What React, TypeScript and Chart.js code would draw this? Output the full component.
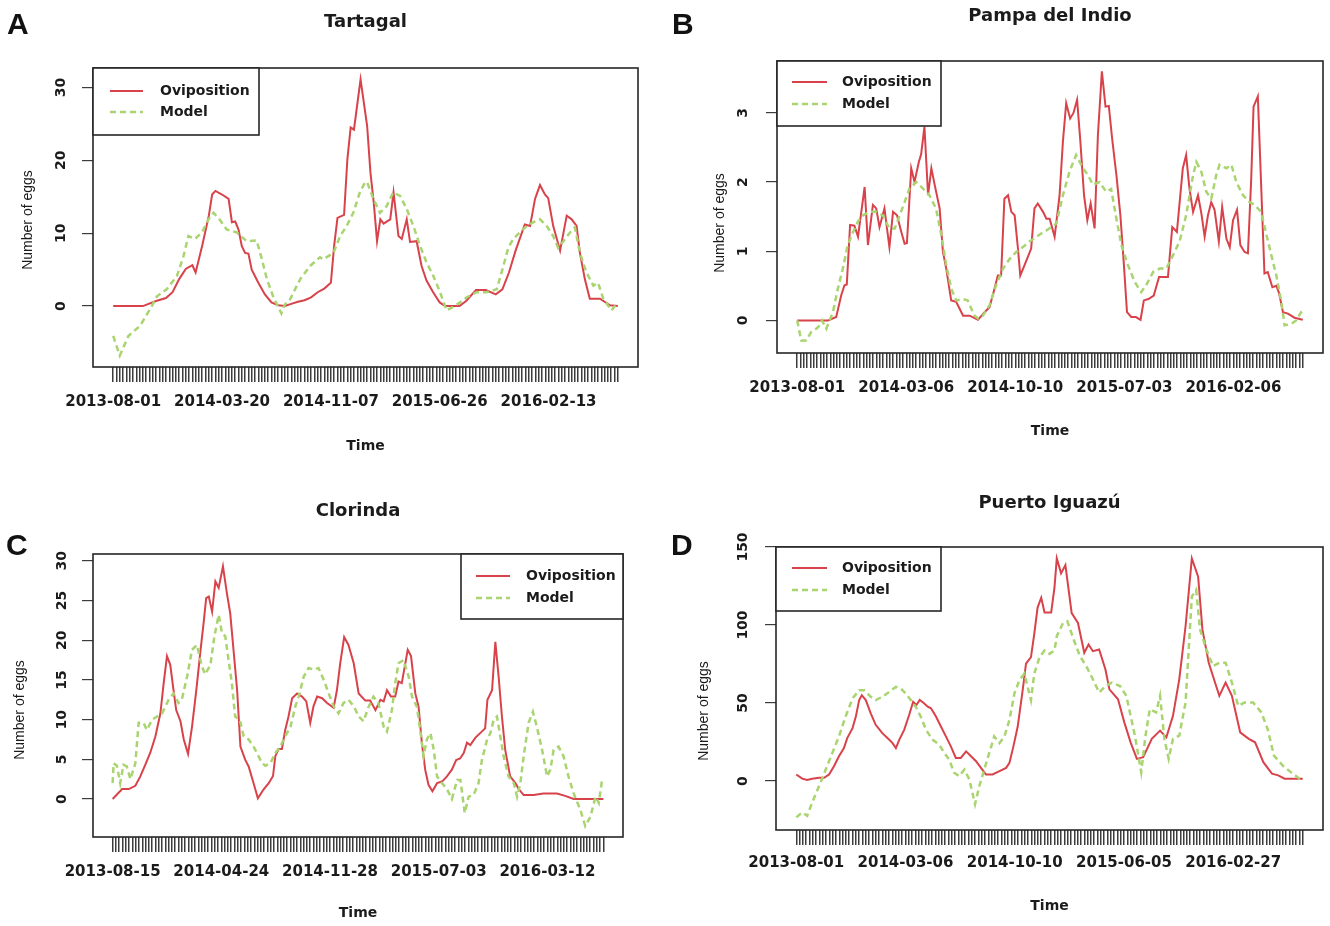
import React, { useEffect, useRef } from "react";
import { Chart, registerables } from "chart.js";

Chart.register(...registerables);

// ---------- data (x = observation index, y = number of eggs) ----------
const tartagalDates = ["2013-08-01", "2014-03-20", "2014-11-07", "2015-06-26", "2016-02-13"];
const pampaDates = ["2013-08-01", "2014-03-06", "2014-10-10", "2015-07-03", "2016-02-06"];
const clorindaDates = ["2013-08-15", "2014-04-24", "2014-11-28", "2015-07-03", "2016-03-12"];
const iguazuDates = ["2013-08-01", "2014-03-06", "2014-10-10", "2015-06-05", "2016-02-27"];

const tartagalYTicks = [0, 10, 20, 30];
const pampaYTicks = [0, 1, 2, 3];
const clorindaYTicks = [0, 5, 10, 15, 20, 25, 30];
const iguazuYTicks = [0, 50, 100, 150];

const tartagalOviposition = [
  [0, 0], [9, 0], [13, 0.7], [16, 1.1], [18, 1.9], [20, 3.7], [22, 5.1], [24, 5.6], [25, 4.6], [27, 8.3],
  [29, 12.4], [30, 15.3], [31, 15.8], [33, 15.3], [35, 14.7], [36, 11.5], [37, 11.6], [38, 10.5], [39, 8.2],
  [40, 7.3], [41, 7.2], [42, 5.0], [44, 3.2], [46, 1.6], [48, 0.5], [50, 0.1], [52, 0], [54, 0.3], [56, 0.6],
  [58, 0.8], [60, 1.2], [62, 1.9], [64, 2.4], [66, 3.2], [67, 8.3], [68, 12.1], [70, 12.5], [71, 20.1],
  [72, 24.5], [73, 24.2], [75, 31.1], [77, 24.7], [78, 18.3], [79, 14.2], [80, 8.9], [81, 11.9], [82, 11.3],
  [84, 11.9], [85, 15.6], [86.5, 9.6], [87.5, 9.2], [89, 11.9], [90, 8.8], [92, 8.9], [93.5, 5.5], [95, 3.5],
  [97, 1.9], [99, 0.5], [100.6, 0], [105, 0], [107, 0.7], [110, 2.2], [113, 2.2], [116, 1.6], [118, 2.3],
  [120, 4.6], [122, 7.6], [124.8, 11.2], [126.4, 11.0], [127.9, 14.7], [129.4, 16.6], [130.9, 15.3],
  [131.9, 14.8], [133.4, 11.0], [135.5, 7.6], [137.5, 12.4], [139, 11.9], [140.5, 11.0], [141.5, 7.3],
  [143, 3.7], [144.5, 1.0], [147.6, 1.0], [150.6, 0.1], [153, 0],
];
const tartagalModel = [
  [0, -4.1], [2, -6.8], [4.6, -4.1], [8.2, -2.7], [11.7, 0], [13.2, 1.3], [16.2, 2.3], [19.3, 4.1], [21.3, 6.8],
  [22.8, 9.6], [24.8, 9.2], [26.9, 10.1], [28.9, 11.9], [30.4, 12.8], [32.4, 11.8], [34.4, 10.5], [37.5, 10.1],
  [40.5, 8.9], [43.5, 9.0], [45.1, 6.4], [46.6, 3.7], [48.6, 1.2], [50.1, -0.2], [51, -1.0], [52, 0.2],
  [53.6, 0.9], [56.7, 3.7], [59.7, 5.5], [62.7, 6.7], [63.7, 6.4], [66.8, 7.3], [68.8, 9.6], [70.8, 11.0],
  [72.8, 12.8], [74.8, 15.6], [76.4, 17.0], [77, 17.0], [78.9, 14.7], [80.9, 12.8], [82.9, 13.7], [84.9, 15.6],
  [87, 15.1], [89, 13.3], [91, 11.0], [93, 8.3], [95, 6.0], [97.1, 4.1], [99.1, 1.9], [101.1, -0.6],
  [103.1, -0.1], [105.2, 0.5], [107.2, 1.2], [110.2, 1.9], [113.2, 1.9], [116.3, 2.3], [118.3, 5.5],
  [119.8, 8.0], [121.3, 9.2], [123.3, 10.1], [125.4, 11.0], [127.4, 11.5], [129.4, 11.9], [131.4, 11.0],
  [133.4, 9.6], [134.9, 8.0], [136.5, 8.9], [138.5, 10.1], [140, 10.8], [141.5, 7.3], [143.5, 4.6],
  [145.6, 2.8], [147, 3.2], [148.6, 1.0], [151.1, -0.6], [153, 0.5],
];

const pampaOviposition = [
  [0, 0], [9.3, 0], [11.8, 0.05], [13.3, 0.36], [14.3, 0.51], [15, 0.52], [16, 1.38], [17.3, 1.37], [18.4, 1.21],
  [20.4, 1.93], [21.4, 1.09], [22.9, 1.67], [23.9, 1.62], [24.9, 1.35], [26.4, 1.62], [27.9, 1.06], [29, 1.57],
  [30.2, 1.52], [31.5, 1.28], [32.5, 1.11], [33.2, 1.12], [34.5, 2.2], [35.5, 2.0], [36.8, 2.29], [37.5, 2.4],
  [38.5, 2.8], [39.6, 1.81], [40.6, 2.2], [41.6, 1.96], [43.1, 1.62], [44.1, 0.99], [45.1, 0.75], [46.6, 0.29],
  [48.1, 0.27], [50.2, 0.07], [52.2, 0.07], [54.7, 0.01], [56.7, 0.12], [58.2, 0.19], [59.7, 0.46], [60.7, 0.65],
  [61.7, 0.65], [62.7, 1.76], [63.8, 1.81], [64.8, 1.57], [65.8, 1.52], [66.8, 1.04], [67.5, 0.65], [68.8, 0.8],
  [70.8, 1.04], [71.8, 1.62], [72.8, 1.69], [74.4, 1.57], [75.4, 1.47], [76.4, 1.47], [77.9, 1.21], [79.4, 1.81],
  [80.4, 2.58], [81.4, 3.14], [82.6, 2.92], [83.6, 3.0], [84.7, 3.19], [85.7, 2.58], [86.8, 1.81], [87.8, 1.45],
  [88.8, 1.69], [90, 1.33], [91, 2.68], [92.2, 3.6], [93.3, 3.09], [94.3, 3.1], [95.3, 2.63], [96.6, 2.1],
  [97.8, 1.52], [98.8, 0.85], [99.8, 0.12], [101.1, 0.05], [102.5, 0.05], [103.9, 0.01], [104.9, 0.29],
  [106.3, 0.31], [107.9, 0.36], [109.5, 0.63], [112.2, 0.63], [113.5, 1.35], [114.9, 1.28], [116.7, 2.2],
  [117.7, 2.39], [118.7, 1.91], [119.8, 1.57], [121.3, 1.81], [122.3, 1.55], [123.3, 1.21], [124.3, 1.52],
  [125.3, 1.71], [126.3, 1.6], [127.6, 1.14], [128.6, 1.64], [129.9, 1.18], [130.9, 1.06], [131.9, 1.45],
  [133.1, 1.6], [134.1, 1.09], [135.4, 0.99], [136.4, 0.97], [137.4, 2.05], [138.1, 3.09], [139.4, 3.24],
  [140.4, 1.96], [141.4, 0.68], [142.4, 0.7], [143.8, 0.48], [145, 0.5], [145.8, 0.4], [147, 0.12],
  [148.5, 0.1], [150.5, 0.04], [153, 0.01],
];
const pampaModel = [
  [0, 0], [1.2, -0.29], [2.7, -0.29], [4.2, -0.17], [6.3, -0.1], [7.5, 0], [8.8, -0.12], [10.8, 0.12],
  [12.3, 0.46], [13.8, 0.75], [15.3, 1.09], [16.9, 1.28], [18.4, 1.43], [19.9, 1.52], [21.9, 1.57], [23.9, 1.57],
  [25.9, 1.52], [27.9, 1.33], [29.5, 1.33], [31, 1.52], [32.5, 1.71], [34, 1.91], [36, 2.0], [38, 1.91],
  [40, 1.81], [42, 1.62], [43.6, 1.24], [45.1, 0.8], [46.6, 0.46], [48.1, 0.29], [50.2, 0.31], [51.6, 0.29],
  [52.7, 0.17], [53.7, 0.07], [54.7, 0.03], [56.2, 0.07], [58.2, 0.22], [60.2, 0.51], [62.3, 0.75], [64.3, 0.89],
  [66.3, 0.99], [68.3, 1.06], [70.3, 1.14], [73.3, 1.24], [75.4, 1.3], [78.4, 1.4], [80.4, 1.81], [82.4, 2.15],
  [84.4, 2.39], [86.5, 2.2], [88, 2.1], [89.5, 1.96], [91.5, 2.0], [93.5, 1.86], [95, 1.9], [96.6, 1.47],
  [98.1, 1.09], [100.1, 0.8], [102.1, 0.56], [104.1, 0.41], [105.6, 0.51], [107.7, 0.7], [109.7, 0.75],
  [111.7, 0.75], [113.7, 0.94], [115.7, 1.14], [117.7, 1.52], [119.8, 2.1], [120.8, 2.29], [122.3, 2.15],
  [123.8, 1.86], [125.3, 1.76], [126.8, 2.1], [127.8, 2.25], [129.9, 2.2], [131.4, 2.25], [132.9, 2.0],
  [134.9, 1.81], [136.9, 1.71], [138.4, 1.67], [140.4, 1.57], [142, 1.24], [143.5, 0.94], [145, 0.65],
  [146.5, 0.27], [147.5, -0.07], [149.5, -0.05], [151, 0], [152.5, 0.12], [153, 0.15],
];

const clorindaOviposition = [
  [0, 0], [2.9, 1.26], [4.9, 1.26], [6.9, 1.67], [8.4, 2.85], [9.9, 4.3], [11.4, 5.8], [13, 7.9], [14.5, 10.8],
  [15.5, 14.6], [16.5, 18.0], [17.5, 16.9], [18.5, 13.7], [19.3, 11.2], [20.6, 9.8], [21.6, 7.5], [22.9, 5.7],
  [24.1, 9.1], [25.4, 13.7], [26.6, 18.4], [27.6, 22.1], [28.4, 25.3], [29.2, 25.5], [30.2, 23.6], [31.2, 27.4],
  [32.2, 26.6], [33.5, 29.3], [34.7, 25.9], [35.7, 23.4], [36.7, 18.8], [37.8, 13.7], [38.8, 6.6], [40.3, 4.9],
  [41.3, 4.1], [42.8, 2.0], [44.1, 0.1], [45.8, 1.2], [47.4, 2.0], [48.7, 2.9], [49.4, 5.4], [50.4, 6.3],
  [51.4, 6.3], [52.4, 8.7], [53.4, 10.4], [54.5, 12.7], [56, 13.3], [57.5, 12.9], [58.8, 12.3], [60, 9.6],
  [61, 11.7], [62.1, 12.9], [63.6, 12.7], [65.1, 12.1], [67.1, 11.5], [68.1, 13.7], [69.1, 17.1], [70.3, 20.4],
  [71.6, 19.4], [73.2, 17.1], [74.7, 13.3], [76.7, 12.4], [78.2, 12.4], [79.8, 11.2], [81.3, 12.5], [82.3, 12.3],
  [83.3, 13.7], [84.5, 12.9], [85.8, 12.9], [86.8, 14.8], [87.8, 14.6], [89.6, 18.8], [90.6, 18.0], [91.9, 13.3],
  [92.9, 11.6], [93.9, 7.0], [94.9, 3.7], [95.9, 1.8], [97.1, 0.97], [98.5, 2.0], [100, 2.2], [101.5, 2.85],
  [103, 3.7], [104.3, 4.9], [105.5, 5.1], [106.6, 5.8], [107.6, 7.1], [108.6, 6.8], [110.1, 7.7], [111.6, 8.3],
  [113.1, 8.9], [113.8, 12.5], [115.2, 13.7], [116.2, 19.8], [117.2, 15.4], [118.2, 10.4], [119.2, 6.2],
  [120.7, 2.85], [122.3, 2.0], [123.3, 1.26], [124.8, 0.5], [127.8, 0.5], [130.8, 0.7], [134.9, 0.7],
  [137.4, 0.4], [140, 0], [149, 0],
];
const clorindaModel = [
  [0, 2.0], [0.3, 4.5], [1.3, 4.2], [2.3, 2.0], [3.3, 4.3], [4.3, 4.1], [5.4, 2.5], [6.9, 4.5], [7.9, 9.6],
  [9.4, 9.6], [10.4, 8.7], [12, 10.0], [13.5, 10.4], [15, 10.8], [17, 12.5], [18.5, 13.3], [20, 12.1], [21, 12.5],
  [22.6, 15.4], [24.1, 18.8], [25.6, 19.4], [27.1, 16.7], [28.1, 15.7], [29.7, 16.9], [30.9, 20.5], [32.2, 23.2],
  [33.2, 20.9], [34.2, 20.5], [35.2, 17.5], [36.2, 14.6], [37.2, 10.4], [38.6, 10.0], [39.8, 7.9], [41.3, 7.5],
  [42.8, 6.6], [44.3, 5.4], [45.4, 4.5], [46.4, 4.2], [47.9, 4.5], [49.4, 5.8], [50.9, 6.6], [52.4, 7.9],
  [54, 9.1], [55.5, 11.7], [56.5, 12.9], [58, 15.4], [59.5, 16.5], [61, 16.3], [62.5, 16.5], [64.1, 15.0],
  [65.6, 13.3], [67.1, 11.7], [68.6, 10.8], [70.1, 12.1], [71.6, 12.5], [73.2, 11.7], [74.7, 10.4], [76.2, 9.8],
  [77.7, 11.6], [79.2, 12.9], [80.7, 12.1], [82.3, 9.1], [83.3, 8.5], [84.8, 11.2], [85.8, 14.6], [86.8, 17.1],
  [88.3, 17.5], [89.9, 15.4], [90.9, 12.9], [92.4, 11.6], [93.4, 8.7], [94.4, 5.4], [95.4, 7.5], [96.5, 8.3],
  [97.5, 6.2], [98.5, 2.85], [100, 2.0], [101.5, 1.26], [103, 0], [104.6, 2.4], [105.6, 2.4], [106.9, -1.76],
  [108.1, 0.3], [109.6, 0.5], [111.1, 2.0], [112.1, 4.9], [113.7, 7.5], [114.7, 8.3], [115.7, 10.0], [116.7, 10.4],
  [117.7, 7.9], [118.7, 5.4], [120.2, 2.85], [121.8, 2.0], [122.8, 0.3], [123.8, 2.0], [124.8, 5.4], [126.3, 9.6],
  [127.6, 11.0], [128.8, 9.1], [130.4, 6.2], [131.9, 2.85], [132.9, 3.7], [133.9, 6.2], [135.4, 6.6], [136.9, 5.4],
  [138.4, 2.85], [140, 0.7], [142, -1.35], [143.5, -3.4], [145.1, -2.2], [146.6, 0.3], [147.6, -0.5], [148.6, 2.4],
  [149, 2.6],
];

const iguazuOviposition = [
  [0, 4.2], [1.8, 1.5], [3.3, 0.6], [4.8, 1.5], [6.9, 2.1], [8.4, 2.1], [9.9, 4.2], [11.4, 9.5], [12.9, 15.9],
  [14.4, 21.1], [15.4, 27.5], [17, 33.9], [18, 41.3], [19, 51.9], [19.8, 55.0], [21, 51.9], [22.5, 43.4], [24, 36.0],
  [26, 30.7], [28.1, 26.4], [29.1, 24.3], [30.1, 21.1], [31.1, 26.4], [32.6, 32.8], [34.1, 42.3], [35.3, 50.8],
  [36.3, 48.7], [37.3, 51.9], [38.6, 49.8], [39.7, 47.6], [40.7, 46.6], [42.2, 41.3], [43.7, 34.9], [45.2, 28.6],
  [46.7, 22.2], [48.2, 14.8], [49.7, 14.8], [51.3, 19.0], [52.8, 15.9], [54.3, 12.7], [55.8, 8.4], [57.3, 4.2],
  [59.3, 4.2], [61.4, 6.3], [63.4, 8.4], [64.4, 11.6], [65.6, 22.2], [66.9, 34.9], [68.4, 58.2], [69.4, 75.2],
  [70.9, 79.4], [71.9, 94.3], [72.9, 111.2], [74, 117.5], [75, 108], [77, 108], [78, 123.9], [78.7, 142.7],
  [80, 133.1], [81.3, 138.4], [83.2, 107.6], [85.1, 101.3], [87, 82.2], [88.3, 87.5], [89.6, 83.2], [91.5, 84.3],
  [93.4, 71.5], [94.6, 58.8], [97.2, 52.4], [99.1, 37.6], [101, 24.8], [102.9, 14.2], [104.8, 15.3], [107.4, 27],
  [109.9, 32.3], [111.8, 28], [113.8, 41.8], [115.7, 65.2], [117.6, 99.2], [119.5, 142.7], [121.4, 131],
  [122.7, 97], [124.6, 75.8], [126.5, 63.1], [127.8, 54.6], [129.7, 63.1], [131.6, 54.6], [134.1, 31.2],
  [136.7, 27], [138.6, 24.8], [141.1, 12.1], [143.7, 4.7], [145.6, 3.6], [147.5, 1.5], [153, 1.5],
];
const iguazuModel = [
  [0, -23.3], [1.8, -20.2], [3.3, -22.3], [4.8, -13.8], [6.9, -3.2], [8.9, 7.4], [10.9, 18.0], [12.9, 28.6],
  [14.9, 41.3], [17, 52.9], [19, 58.2], [20.5, 58.2], [22.5, 54.0], [24, 51.9], [26, 54.0], [28.1, 57.2],
  [30.1, 60.3], [31.6, 59.3], [33.1, 56.1], [34.6, 51.9], [36.1, 47.6], [37.6, 41.3], [39.2, 32.8], [41.2, 26.4],
  [43.2, 23.3], [44.7, 18.0], [46.2, 13.7], [47.7, 5.3], [49.2, 3.1], [50.8, 7.4], [52.3, 1.0], [54, -14.9],
  [55.3, -3.2], [56.8, 7.4], [58.3, 18.0], [59.8, 28.6], [61.4, 24.3], [62.9, 28.6], [64.4, 39.2], [65.9, 56.1],
  [67.4, 64.6], [68.9, 68.8], [69.9, 60.3], [70.9, 51.9], [71.9, 68.8], [73.5, 79.4], [75, 83.7], [76.5, 81.5],
  [78, 83.7], [78.7, 92.8], [80.6, 101.3], [81.9, 102.3], [83.8, 90.7], [85.7, 80], [87.6, 73.7], [89.6, 65.2],
  [91.5, 56.7], [93.4, 60.9], [95.3, 63.1], [97.8, 60.9], [99.7, 54.6], [101, 41.8], [102.3, 29.1], [104.2, 5.7],
  [105.5, 29.1], [106.8, 46.1], [108.7, 44], [109.9, 54.6], [111.2, 27], [112.5, 14.2], [113.8, 27], [115.7, 29.1],
  [117.6, 50.3], [119.5, 118.3], [120.8, 122.5], [122, 97], [123.9, 84.3], [125.9, 73.7], [127.8, 75.8],
  [129.7, 75.8], [131.6, 63.1], [133.5, 48.2], [135.4, 50.3], [138, 50.3], [140.5, 44], [142.4, 33.3],
  [144.3, 16.3], [146.9, 10], [149.4, 5.7], [152, 1.5], [153, 2],
];

// ---------- styling / layout ----------
const RED = "#d8424a";
const GREEN = "#a9d470";
const INK = "#1b1b1b";
const TICK = "#3c3c3c";
const SANS = "'DejaVu Sans', 'Liberation Sans', sans-serif";
const ARIAL = "'Liberation Sans', Arial, sans-serif";
const LABEL_STEP = 33;
const CW = 665;
const CH = 463;

type Legend = { l: number; t: number; r: number; b: number; x1: number; x2: number; y1: number; y2: number; tx: number };
type PanelCfg = {
  letter: string; ox: number; oy: number; title: string;
  obs: number[][]; mod: number[][]; n: number; dates: string[];
  yMin: number; yMax: number; yTicks: number[];
  box: { l: number; t: number; r: number; b: number };
  titleCY: number; yTitleCX: number; yTitleCY: number; yTickPad: number; xTickPad: number; timeCY: number;
  legend: Legend;
};

const panels: PanelCfg[] = [
  {
    letter: "A", ox: 0, oy: 0, title: "Tartagal", obs: tartagalOviposition, mod: tartagalModel, n: 154,
    dates: tartagalDates, yMin: -8.36, yMax: 32.66, yTicks: tartagalYTicks,
    box: { l: 93, t: 68, r: 638, b: 367 }, titleCY: 22, yTitleCX: 28, yTitleCY: 220, yTickPad: 11, xTickPad: 11, timeCY: 446,
    legend: { l: 93, t: 68, r: 259, b: 135, x1: 110, x2: 143, y1: 91, y2: 112, tx: 160 },
  },
  {
    letter: "B", ox: 665, oy: 0, title: "Pampa del Indio", obs: pampaOviposition, mod: pampaModel, n: 154,
    dates: pampaDates, yMin: -0.47, yMax: 3.75, yTicks: pampaYTicks,
    box: { l: 777, t: 61, r: 1323, b: 353 }, titleCY: 16, yTitleCX: 720, yTitleCY: 223, yTickPad: 18, xTickPad: 11, timeCY: 431,
    legend: { l: 777, t: 61, r: 941, b: 126, x1: 792, x2: 827, y1: 82, y2: 104, tx: 842 },
  },
  {
    letter: "C", ox: 0, oy: 463, title: "Clorinda", obs: clorindaOviposition, mod: clorindaModel, n: 150,
    dates: clorindaDates, yMin: -4.78, yMax: 30.86, yTicks: clorindaYTicks,
    box: { l: 93, t: 554, r: 623, b: 837 }, titleCY: 511, yTitleCX: 20, yTitleCY: 710, yTickPad: 10, xTickPad: 11, timeCY: 913,
    legend: { l: 461, t: 554, r: 623, b: 619, x1: 476, x2: 510, y1: 576, y2: 598, tx: 526 },
  },
  {
    letter: "D", ox: 665, oy: 463, title: "Puerto Iguazú", obs: iguazuOviposition, mod: iguazuModel, n: 154,
    dates: iguazuDates, yMin: -31.4, yMax: 150, yTicks: iguazuYTicks,
    box: { l: 776, t: 547, r: 1323, b: 830 }, titleCY: 503, yTitleCX: 704, yTitleCY: 711, yTickPad: 7.5, xTickPad: 9, timeCY: 906,
    legend: { l: 776, t: 547, r: 941, b: 611, x1: 792, x2: 827, y1: 568, y2: 590, tx: 842 },
  },
];

const toPoints = (arr: number[][]) => arr.map(([x, y]) => ({ x, y }));

function Panel({ cfg }: { cfg: PanelCfg }) {
  const ref = useRef<HTMLCanvasElement | null>(null);

  useEffect(() => {
    if (!ref.current) return;
    const box = {
      l: cfg.box.l - cfg.ox, t: cfg.box.t - cfg.oy, r: cfg.box.r - cfg.ox, b: cfg.box.b - cfg.oy,
    };
    const lg = {
      l: cfg.legend.l - cfg.ox, t: cfg.legend.t - cfg.oy, r: cfg.legend.r - cfg.ox, b: cfg.legend.b - cfg.oy,
      x1: cfg.legend.x1 - cfg.ox, x2: cfg.legend.x2 - cfg.ox, y1: cfg.legend.y1 - cfg.oy, y2: cfg.legend.y2 - cfg.oy,
      tx: cfg.legend.tx - cfg.ox,
    };
    const titleSize = 18;
    const titleLH = titleSize * 1.2;
    const titleC = cfg.titleCY - cfg.oy;
    const titlePadTop = titleC - titleLH / 2;
    const titlePadBottom = box.t - titleC - titleLH / 2;
    const yTitleX = cfg.yTitleCX - cfg.ox;
    const yTitleY = cfg.yTitleCY - cfg.oy;
    const timeSize = 14;
    const timePad = CH - (cfg.timeCY - cfg.oy) - (timeSize * 1.2) / 2;
    const span = cfg.n - 1;
    const xIdx = Array.from({ length: cfg.n }, (_, i) => i);

    const framePlugin = {
      id: "frameAndLegend",
      afterDraw(chart: any) {
        const { ctx, chartArea: a } = chart;
        ctx.save();
        ctx.strokeStyle = "#262626";
        ctx.lineWidth = 1.6;
        ctx.setLineDash([]);
        ctx.strokeRect(a.left, a.top, a.right - a.left, a.bottom - a.top);
        // y-axis title
        ctx.save();
        ctx.translate(yTitleX, yTitleY);
        ctx.rotate(-Math.PI / 2);
        ctx.fillStyle = INK;
        ctx.font = `14px ${ARIAL}`;
        ctx.textAlign = "center";
        ctx.textBaseline = "middle";
        ctx.fillText("Number of eggs", 0, 0);
        ctx.restore();
        // legend
        ctx.fillStyle = "#ffffff";
        ctx.fillRect(lg.l, lg.t, lg.r - lg.l, lg.b - lg.t);
        ctx.strokeStyle = "#262626";
        ctx.lineWidth = 1.6;
        ctx.strokeRect(lg.l, lg.t, lg.r - lg.l, lg.b - lg.t);
        chart.data.datasets.forEach((ds: any, i: number) => {
          const y = i === 0 ? lg.y1 : lg.y2;
          ctx.beginPath();
          ctx.setLineDash(ds.borderDash || []);
          ctx.strokeStyle = ds.borderColor;
          ctx.lineWidth = ds.borderWidth;
          ctx.moveTo(lg.x1, y);
          ctx.lineTo(lg.x2, y);
          ctx.stroke();
          ctx.setLineDash([]);
          ctx.fillStyle = INK;
          ctx.font = `bold 14px ${SANS}`;
          ctx.textBaseline = "middle";
          ctx.textAlign = "left";
          ctx.fillText(ds.label, lg.tx, y);
        });
        ctx.restore();
      },
    };

    const chart = new Chart(ref.current, {
      type: "line",
      data: {
        datasets: [
          {
            label: "Oviposition",
            data: toPoints(cfg.obs),
            borderColor: RED,
            borderWidth: 2,
            pointRadius: 0,
            tension: 0,
            fill: false,
            order: 1,
          },
          {
            label: "Model",
            data: toPoints(cfg.mod),
            borderColor: GREEN,
            borderWidth: 2.5,
            borderDash: [6, 4],
            pointRadius: 0,
            tension: 0,
            fill: false,
            order: 0,
          },
        ],
      },
      options: {
        responsive: false,
        maintainAspectRatio: false,
        animation: false,
        events: [],
        layout: { padding: { left: 0, top: 0, right: CW - box.r, bottom: 0 } },
        plugins: {
          legend: { display: false },
          tooltip: { enabled: false },
          title: {
            display: true,
            text: cfg.title,
            fullSize: false,
            color: INK,
            font: { family: SANS, size: titleSize, weight: "bold" },
            padding: { top: titlePadTop, bottom: titlePadBottom },
          },
        },
        scales: {
          x: {
            type: "linear",
            min: -0.04 * span,
            max: span * 1.04,
            afterBuildTicks: (axis: any) => {
              axis.ticks = xIdx.map((v) => ({ value: v }));
            },
            afterFit: (axis: any) => {
              axis.height = CH - box.b;
            },
            ticks: {
              autoSkip: false,
              maxRotation: 0,
              minRotation: 0,
              padding: cfg.xTickPad,
              color: INK,
              font: { family: SANS, size: 15, weight: "bold" },
              callback: (v: any) => {
                const k = Number(v);
                return k % LABEL_STEP === 0 && cfg.dates[k / LABEL_STEP] ? cfg.dates[k / LABEL_STEP] : "";
              },
            },
            grid: { drawOnChartArea: false, drawTicks: true, tickLength: 15, color: TICK, lineWidth: 1.5 },
            border: { display: false },
            title: {
              display: true,
              text: "Time",
              color: INK,
              font: { family: SANS, size: timeSize, weight: "bold" },
              padding: { top: 0, bottom: timePad },
            },
          },
          y: {
            type: "linear",
            min: cfg.yMin,
            max: cfg.yMax,
            afterBuildTicks: (axis: any) => {
              axis.ticks = cfg.yTicks.map((v) => ({ value: v }));
            },
            afterFit: (axis: any) => {
              axis.width = box.l;
            },
            ticks: {
              minRotation: 90,
              maxRotation: 90,
              crossAlign: "center",
              padding: cfg.yTickPad,
              color: INK,
              font: { family: SANS, size: 14, weight: "bold" },
            },
            grid: { drawOnChartArea: false, drawTicks: true, tickLength: 11, color: TICK, lineWidth: 1.2 },
            border: { display: false },
            title: { display: false },
          },
        },
      } as any,
      plugins: [framePlugin],
    });
    return () => chart.destroy();
  }, [cfg]);

  return (
    <>
      <canvas
        ref={ref}
        width={CW}
        height={CH}
        style={{ position: "absolute", left: cfg.ox, top: cfg.oy, width: CW, height: CH }}
      />
      <div
        style={{
          position: "absolute",
          left: cfg.ox + (cfg.letter === "A" || cfg.letter === "B" ? 7 : 6),
          top: cfg.oy + 7 + (cfg.oy > 0 ? 58 : 0),
          font: `bold 30px ${ARIAL}`,
          lineHeight: "34px",
          color: "#111",
        }}
      >
        {cfg.letter}
      </div>
    </>
  );
}

export default function App() {
  return (
    <div style={{ position: "fixed", left: 0, top: 0, width: 1330, height: 926, background: "#ffffff", overflow: "hidden" }}>
      {panels.map((p) => (
        <Panel key={p.letter} cfg={p} />
      ))}
    </div>
  );
}
